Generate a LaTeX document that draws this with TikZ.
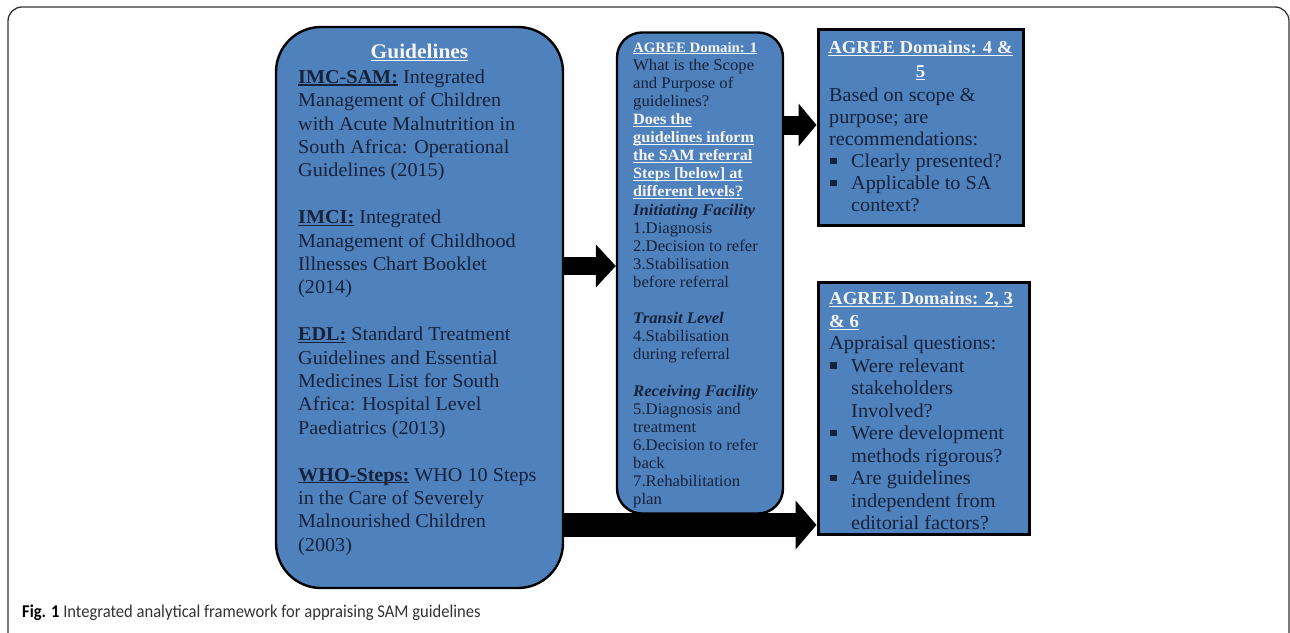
\documentclass[tikz,border=0pt]{standalone}
\usepackage{fontspec}
\setmainfont{Liberation Serif}[FakeStretch=1.03]
\newfontfamily\capfont{Carlito}[FakeStretch=0.92]
\usetikzlibrary{arrows.meta}
\definecolor{boxblue}{HTML}{4F81BD}
\definecolor{ink}{HTML}{15223A}
\definecolor{headw}{HTML}{F5F5F5}
\newcommand\myul[1]{\setbox0\hbox{#1}\rlap{\rule[-2.2pt]{\wd0}{1.1pt}}\box0\relax}
\newcommand\sqb{\rule[0.18em]{0.34em}{0.34em}}
\newcommand\bitem{\makebox[22pt][l]{\hspace{1pt}\sqb}}
\newcommand\bcont{\hspace*{22pt}}
\begin{document}
\begin{tikzpicture}[x=1pt,y=-1pt,
  roundbox/.style={draw=black, line width=2.4pt, fill=boxblue, inner sep=0pt},
  sqbox/.style={draw=black, line width=3pt, fill=boxblue, inner sep=0pt},
  bodytxt/.style={text=ink, align=left, inner sep=0pt, anchor=north west},
  headtxt/.style={text=headw, inner sep=0pt},
  arrowA/.style={draw=black, line width=18pt, -{Triangle[length=20pt,width=42pt]}},
  arrowB/.style={draw=black, line width=19pt, -{Triangle[length=18pt,width=42pt]}},
  arrowC/.style={draw=black, line width=24pt, -{Triangle[length=21pt,width=48pt]}},
]
\useasboundingbox (0,0) rectangle (1290,632);
\fill[white] (0,0) rectangle (1290,632);
% outer frame
\draw[line width=1.3pt, black!80, rounded corners=14pt] (8,640) -- (8,7) -- (1289,7) -- (1289,640);

% boxes
\node[roundbox, rounded corners=45pt, minimum width=287pt, minimum height=561pt] (guid) at (419.5,307.5) {};
\node[roundbox, rounded corners=25pt, minimum width=166pt, minimum height=481pt] (mid) at (700,273) {};
\node[sqbox, minimum width=205pt, minimum height=196pt] (tr) at (920.5,127) {};
\node[sqbox, minimum width=211pt, minimum height=252pt] (br) at (923.5,408) {};

% arrows
\coordinate (a1) at (0,266);
\coordinate (a2) at (0,125);
\coordinate (a3) at (0,525);
\draw[arrowA] (guid.east |- a1) -- (mid.west |- a1);
\draw[arrowB] (mid.east |- a2) -- (tr.west |- a2);
\draw[arrowC] (guid.east |- a3) -- (br.west |- a3);

% guidelines text
\node[headtxt, anchor=north, font=\fontsize{20.8}{24}\selectfont\bfseries] (gtitle) at (419.5,44) {\myul{Guidelines}};
\node[bodytxt, font=\fontsize{19.6}{23.4}\selectfont] (gbody) at (298,69.5) {%
\myul{\textbf{IMC-SAM:}} Integrated\\
Management of Children\\
with Acute Malnutrition in\\
South Africa: Operational\\
Guidelines (2015)\\[23.4pt]
\myul{\textbf{IMCI:}} Integrated\\
Management of Childhood\\
Illnesses Chart Booklet\\
(2014)\\[23.4pt]
\myul{\textbf{EDL:}} Standard Treatment\\
Guidelines and Essential\\
Medicines List for South\\
Africa: Hospital Level\\
Paediatrics (2013)\\[23.4pt]
\myul{\textbf{WHO-Steps:}} WHO 10 Steps\\
in the Care of Severely\\
Malnourished Children\\
(2003)};

% middle text
\node[bodytxt, font=\fontsize{16.2}{18.1}\selectfont] (mbody) at (633,42) {%
\textcolor{headw}{\fontsize{14.4}{18.1}\selectfont\bfseries\myul{AGREE Domain: 1}}\\
What is the Scope\\
and Purpose of\\
guidelines?\\
\textcolor{headw}{\fontsize{15.7}{18.1}\selectfont\bfseries\myul{Does the}}\\
\textcolor{headw}{\fontsize{15.7}{18.1}\selectfont\bfseries\myul{guidelines inform}}\\
\textcolor{headw}{\fontsize{15.7}{18.1}\selectfont\bfseries\myul{the SAM referral}}\\
\textcolor{headw}{\fontsize{15.7}{18.1}\selectfont\bfseries\myul{Steps [below] at}}\\
\textcolor{headw}{\fontsize{15.7}{18.1}\selectfont\bfseries\myul{different levels?}}\\
\textbf{\textit{Initiating Facility}}\\
1.Diagnosis\\
2.Decision to refer\\
3.Stabilisation\\
before referral\\[18.1pt]
\textbf{\textit{Transit Level}}\\
4.Stabilisation\\
during referral\\[18.1pt]
\textbf{\textit{Receiving Facility}}\\
5.Diagnosis and\\
treatment\\
6.Decision to refer\\
back\\
7.Rehabilitation\\
plan};

% top right text
\node[headtxt, anchor=north, align=center, font=\fontsize{18.2}{24}\selectfont\bfseries] (trhead) at (920.5,41) {\myul{AGREE Domains: 4 \&}\\\myul{5}};
\node[bodytxt, font=\fontsize{19.6}{22}\selectfont] (trbody) at (829,88) {%
Based on scope \&\\
purpose; are\\
recommendations:\\
\bitem Clearly presented?\\
\bitem Applicable to SA\\
\bcont context?};

% bottom right text
\node[bodytxt, font=\fontsize{19.8}{22.5}\selectfont] (brbody) at (829,292) {%
\textcolor{headw}{\fontsize{18.3}{22.5}\selectfont\bfseries\myul{AGREE Domains: 2, 3}}\\
\textcolor{headw}{\fontsize{18.3}{22.5}\selectfont\bfseries\myul{\& 6}}\\
Appraisal questions:\\
\bitem Were relevant\\
\bcont stakeholders\\
\bcont Involved?\\
\bitem Were development\\
\bcont methods rigorous?\\
\bitem Are guidelines\\
\bcont independent from\\
\bcont editorial factors?};

% caption
\node[anchor=base west, inner sep=0pt, font=\capfont\fontsize{18}{21}\selectfont, text=black!80] (cap) at (22,617) {\textbf{\color{black}Fig. 1} Integrated analytical framework for appraising SAM guidelines};
\end{tikzpicture}
\end{document}
